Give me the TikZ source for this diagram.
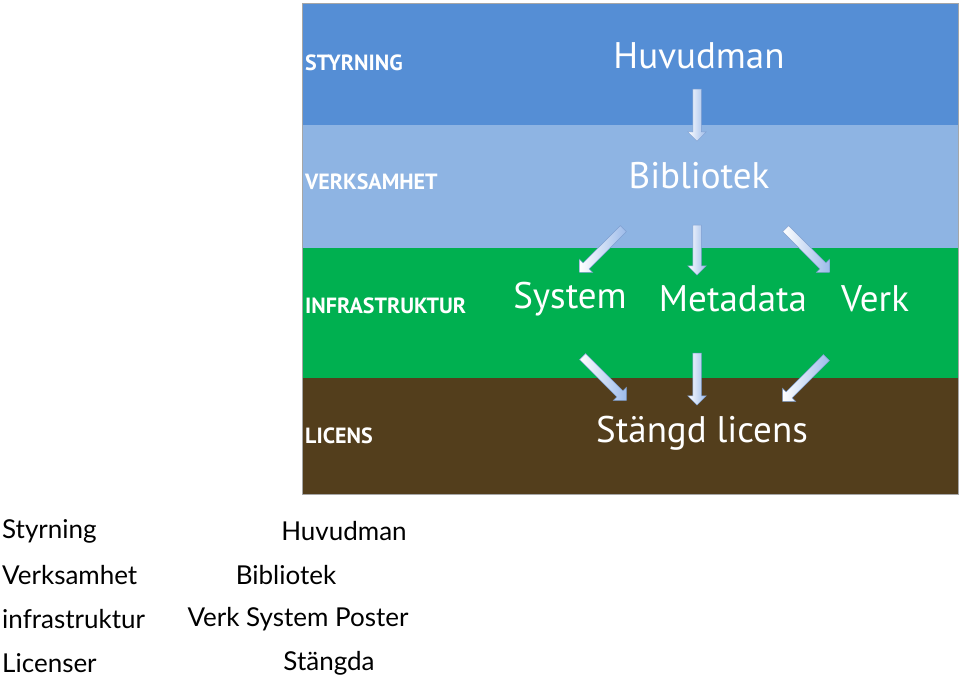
\documentclass[tikz,border=0pt]{standalone}
\usepackage{fontspec}
\setmainfont{PT Sans}
\newfontfamily\botfont{Lato}
\usetikzlibrary{shapes.arrows}
\definecolor{bandA}{HTML}{558ED5}
\definecolor{bandB}{HTML}{8EB4E3}
\definecolor{bandC}{HTML}{00B050}
\definecolor{bandD}{HTML}{533E1C}
\definecolor{arrowblue}{HTML}{9DBBEA}
\definecolor{arrowline}{HTML}{7F9FD0}
\tikzset{
  band/.style={draw=gray!70, line width=0.6pt},
  caplabel/.style={anchor=west, text=white, font=\fontsize{22}{22}\selectfont\bfseries, inner sep=0pt},
  bigword/.style={text=white, font=\fontsize{37}{37}\selectfont, inner sep=0pt},
  botword/.style={text=black, font=\botfont\fontsize{26}{26}\selectfont, inner sep=0pt},
  barrow/.style={single arrow, draw=arrowline, line width=0.5pt, left color=white, right color=arrowblue,
    single arrow head extend=5pt, single arrow tip angle=90, inner xsep=0pt, inner ysep=4pt, minimum height=#1},
}
\begin{document}
\begin{tikzpicture}[x=1pt,y=-1pt]
\useasboundingbox (0,0) rectangle (960,680);
% bands
\fill[bandA] (302,3) rectangle (958,125);
\fill[bandB] (302,125) rectangle (958,248);
\fill[bandC] (302,248) rectangle (958,378);
\fill[bandD] (302,378) rectangle (958,494);
\draw[band] (302,3) rectangle (958,494);
% left labels
\node[caplabel] (l1) at (305,63) {STYRNING};
\node[caplabel] (l2) at (305,182) {VERKSAMHET};
\node[caplabel] (l3) at (305,306) {INFRASTRUKTUR};
\node[caplabel] (l4) at (305,436) {LICENS};
% words
\node[bigword] (huv) at (699,56) {Huvudman};
\node[bigword] (bib) at (699,176) {Bibliotek};
\node[bigword] (sys) at (570,299) {System};
\node[bigword] (met) at (733,299) {Metadata};
\node[bigword] (verk) at (875,299) {Verk};
\node[bigword] (lic) at (702,433) {Stängd licens};
% arrows
\node[barrow=52pt, rotate=-90] (a1) at (697,113) {};
\node[barrow=62pt, rotate=-135] (a2) at (603,249) {};
\node[barrow=50pt, rotate=-90] (a3) at (697,248) {};
\node[barrow=62pt, rotate=-45] (a4) at (806,249) {};
\node[barrow=62pt, rotate=-45] (a5) at (603,377) {};
\node[barrow=52pt, rotate=-90] (a6) at (697,377) {};
\node[barrow=62pt, rotate=-135] (a7) at (806,378) {};
% bottom text
\node[botword, anchor=west] (b1) at (2,531) {Styrning};
\node[botword] (b2) at (344,531) {Huvudman};
\node[botword, anchor=west] (b3) at (2,575) {Verksamhet};
\node[botword] (b4) at (286,575) {Bibliotek};
\node[botword, anchor=west] (b5) at (2,619) {infrastruktur};
\node[botword] (b6) at (298,619) {Verk System Poster};
\node[botword, anchor=west] (b7) at (2,663) {Licenser};
\node[botword] (b8) at (329,663) {Stängda};
\end{tikzpicture}
\end{document}
